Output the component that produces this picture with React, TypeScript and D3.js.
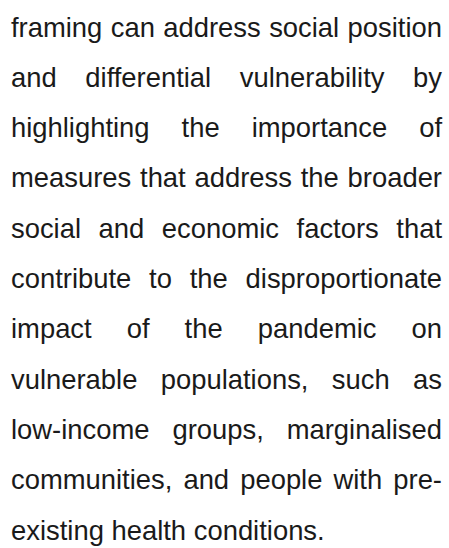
import React from "react";
import * as d3 from "d3";

// paragraph lines as they break in the picture
const lines: string[] = [
  "framing can address social position",
  "and differential vulnerability by",
  "highlighting the importance of",
  "measures that address the broader",
  "social and economic factors that",
  "contribute to the disproportionate",
  "impact of the pandemic on",
  "vulnerable populations, such as",
  "low-income groups, marginalised",
  "communities, and people with pre-",
  "existing health conditions.",
];

const W = 449;
const H = 548;
const left = 11;
const right = 442;
const fontSize = 27.4;
const fontFamily = "'Liberation Sans', Arial, Helvetica, sans-serif";

let ctx: CanvasRenderingContext2D | null = null;
function measure(s: string) {
  if (!ctx) {
    ctx = document.createElement("canvas").getContext("2d");
  }
  if (!ctx) return s.length * fontSize * 0.5;
  ctx.font = `${fontSize}px ${fontFamily}`;
  return ctx.measureText(s).width;
}

export default function App() {
  const y = d3.scaleLinear().domain([0, lines.length - 1]).range([36.5, 539.5]);

  return (
    <div style={{ position: "fixed", left: 0, top: 0 }}>
      <svg width={W} height={H} style={{ display: "block", background: "#fff" }}>
        {lines.map((line, i) => {
          const words = line.split(" ");
          const last = i === lines.length - 1;
          const widths = words.map(measure);
          const total = d3.sum(widths);
          const gap = last
            ? measure(" ")
            : (right - left - total) / Math.max(1, words.length - 1);
          let x = left;
          return (
            <g key={i}>
              {words.map((w, j) => {
                const wx = x;
                x += widths[j] + gap;
                return (
                  <text
                    key={j}
                    x={wx}
                    y={y(i)}
                    fontSize={fontSize}
                    fontFamily={fontFamily}
                    fill="#1a1a1a"
                  >
                    {w}
                  </text>
                );
              })}
            </g>
          );
        })}
      </svg>
    </div>
  );
}
